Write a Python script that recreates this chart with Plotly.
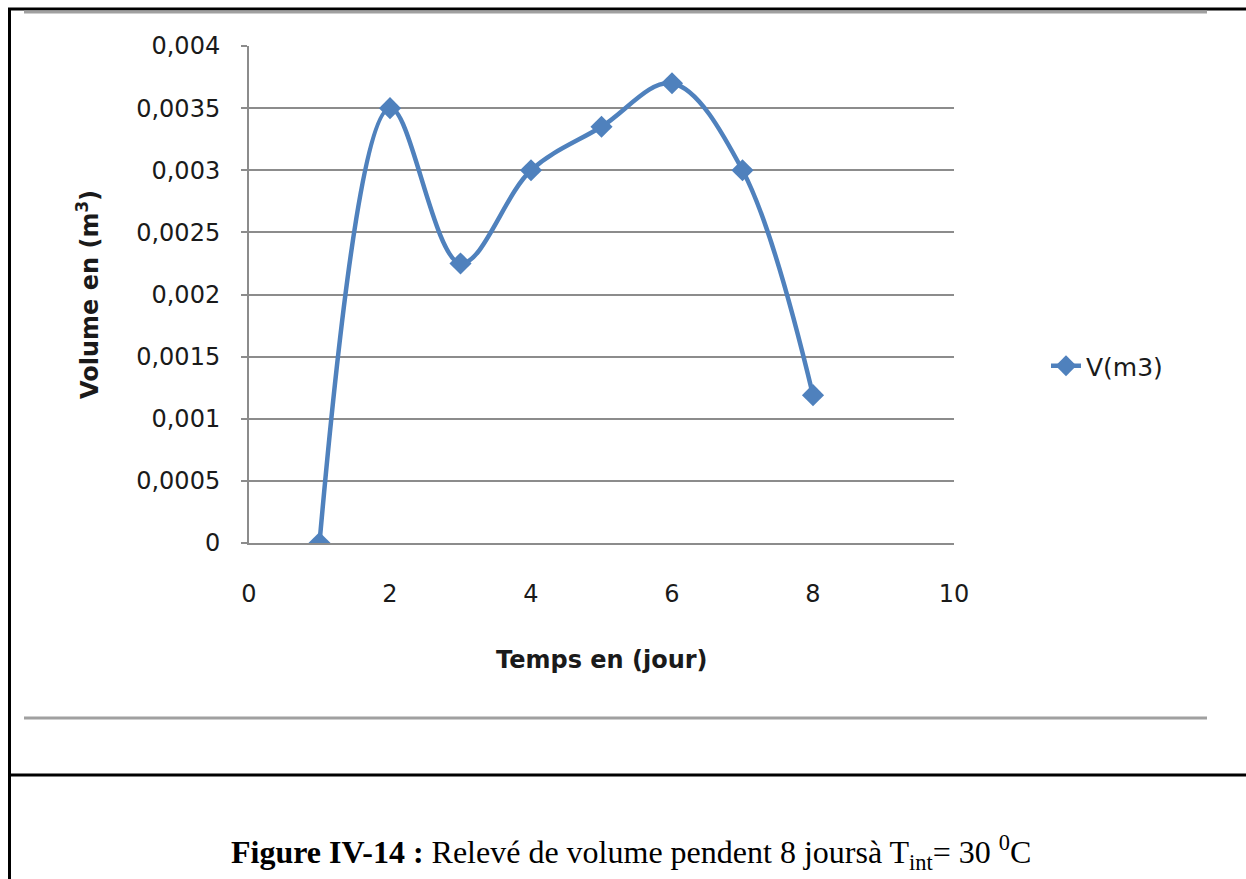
import plotly.graph_objects as go

# ---- data ----
days = [1, 2, 3, 4, 5, 6, 7, 8]
volume_m3 = [0.0, 0.0035, 0.00225, 0.003, 0.00335, 0.0037, 0.003, 0.00119]
series_name = "V(m3)"

y_tickvals = [0, 0.0005, 0.001, 0.0015, 0.002, 0.0025, 0.003, 0.0035, 0.004]
y_ticktext = ["0", "0,0005", "0,001", "0,0015", "0,002", "0,0025", "0,003", "0,0035", "0,004"]
x_tickvals = [0, 2, 4, 6, 8, 10]
x_ticktext = ["0", "2", "4", "6", "8", "10"]

W, H = 1246, 879
BLUE = "#4F81BD"
GRID = "#8c8c8c"
TXT = "#1a1a1a"
FONT = "DejaVu Sans"

def px(x):
    return x / W

def py(y):
    return 1 - y / H

fig = go.Figure()
fig.add_trace(go.Scatter(
    x=days, y=volume_m3, name=series_name, mode="lines+markers",
    line=dict(color=BLUE, width=4.5, shape="spline", smoothing=1.0),
    marker=dict(symbol="diamond", size=17, color=BLUE),
))

fig.update_layout(
    template="none",
    width=W, height=H,
    margin=dict(l=0, r=0, t=0, b=0, autoexpand=False),
    paper_bgcolor="white", plot_bgcolor="white",
    showlegend=True,
    legend=dict(x=px(1046), y=py(366), xanchor="left", yanchor="middle",
                font=dict(family=FONT, size=25, color=TXT),
                bgcolor="rgba(0,0,0,0)", borderwidth=0),
    xaxis=dict(domain=[px(249), px(954)], range=[0, 10], tickvals=x_tickvals, ticktext=x_ticktext,
               automargin=False,
               showgrid=False, zeroline=False, showline=True, linecolor=GRID, linewidth=2,
               ticks="", tickfont=dict(family=FONT, size=24, color=TXT), ticklabelstandoff=28),
    yaxis=dict(domain=[py(543), py(46)], range=[0, 0.004], tickvals=y_tickvals, ticktext=y_ticktext,
               automargin=False,
               showgrid=True, gridcolor=GRID, gridwidth=2, zeroline=False,
               showline=True, linecolor=GRID, linewidth=2,
               ticks="outside", ticklen=6, tickcolor=GRID, tickwidth=2,
               tickfont=dict(family=FONT, size=24, color=TXT), ticklabelstandoff=16),
    font=dict(family=FONT),
)

annotations = [
    dict(text="<b>Volume en (m<sup>3</sup>)</b>", x=px(88), y=py(295), xref="paper", yref="paper",
         showarrow=False, textangle=-90, font=dict(family=FONT, size=24, color=TXT),
         xanchor="center", yanchor="middle"),
    dict(text="<b>Temps en (jour)</b>", x=px(602), y=py(660), xref="paper", yref="paper",
         showarrow=False, font=dict(family=FONT, size=24, color=TXT),
         xanchor="center", yanchor="middle"),
    dict(text="<b>Figure IV-14 :</b> Relevé de volume pendent 8 joursà T<sub>int</sub>= 30 <sup>0</sup>C",
         x=px(631), y=py(852), xref="paper", yref="paper", showarrow=False,
         font=dict(family="Liberation Serif", size=32, color="black"),
         xanchor="center", yanchor="middle"),
]
fig.update_layout(annotations=annotations)

shapes = [
    # black table borders
    dict(type="line", xref="paper", yref="paper", x0=px(8), x1=1, y0=py(9), y1=py(9),
         line=dict(color="black", width=3)),
    dict(type="line", xref="paper", yref="paper", x0=px(9.5), x1=px(9.5), y0=py(8), y1=0,
         line=dict(color="black", width=3)),
    dict(type="line", xref="paper", yref="paper", x0=px(9), x1=1, y0=py(775), y1=py(775),
         line=dict(color="black", width=3)),
    # gray rules
    dict(type="line", xref="paper", yref="paper", x0=px(24), x1=px(1207), y0=py(12), y1=py(12),
         line=dict(color="#a0a0a0", width=3)),
    dict(type="line", xref="paper", yref="paper", x0=px(24), x1=px(1207), y0=py(718), y1=py(718),
         line=dict(color="#a0a0a0", width=3)),
]
fig.update_layout(shapes=shapes)

fig.write_html("out.html")
